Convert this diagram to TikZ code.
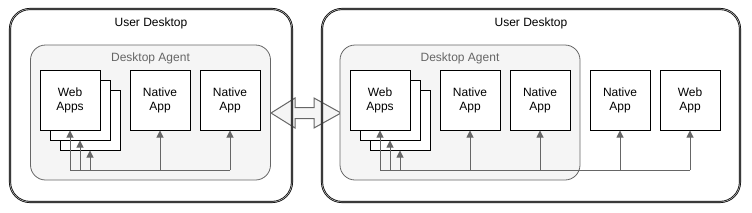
\documentclass[tikz,border=0pt]{standalone}
\usepackage{fontspec}
\setmainfont{Liberation Sans}
\usetikzlibrary{arrows.meta}

\definecolor{agentfill}{HTML}{F5F5F5}
\definecolor{agentline}{HTML}{666666}

\begin{document}
\begin{tikzpicture}[x=1pt, y=-1pt, >={Triangle[length=7pt, width=7pt]},
		font=\fontsize{12}{14}\selectfont,
		desk/.style={rectangle, draw=black, double=black!35, double distance=0.7pt, line width=0.7pt, rounded corners=20pt},
		agent/.style={rectangle, draw=agentline, fill=agentfill, line width=0.8pt, rounded corners=15pt, minimum width=240pt, minimum height=135pt},
		app/.style={rectangle, draw=black, fill=white, line width=1pt, minimum width=60pt, minimum height=60pt, inner sep=0pt, align=center},
		flow/.style={draw=agentline, line width=1pt},
		link/.style={draw=agentline, fill=agentfill, line width=1pt, line join=miter}]
		
		\useasboundingbox (0,0) rectangle (752,212);
		
		% Ligação entre os dois desktops
		\draw[link] (271,113) -- (295,98) -- (295,107.5) -- (314,107.5) -- (314,98) -- (341,113)
			-- (314,128) -- (314,118.5) -- (295,118.5) -- (295,128) -- cycle;
		
		% Desktops
		\node[desk, minimum width=282pt, minimum height=193pt] (deskL) at (151,105.5) {};
		\node[desk, minimum width=418pt, minimum height=193pt] (deskR) at (531,105.5) {};
		\node (deskL_t) at (151,23) {User Desktop};
		\node (deskR_t) at (531,23) {User Desktop};
		
		% Desktop Agents
		\node[agent] (agentL) at (150.5,112.5) {};
		\node[agent] (agentR) at (460,112.5) {};
		\node[text=agentline] (agentL_t) at (150.5,58) {Desktop Agent};
		\node[text=agentline] (agentR_t) at (460,58) {Desktop Agent};
		
		% Apps do desktop da esquerda
		\node[app] (webL3) at (90,120) {};
		\node[app] (webL2) at (80,110) {};
		\node[app] (webL1) at (70,100) {Web\\Apps};
		\node[app] (natL1) at (160,100) {Native\\App};
		\node[app] (natL2) at (230,100) {Native\\App};
		
		% Apps do desktop da direita
		\node[app] (webR3) at (400,120) {};
		\node[app] (webR2) at (390,110) {};
		\node[app] (webR1) at (380,100) {Web\\Apps};
		\node[app] (natR1) at (470,100) {Native\\App};
		\node[app] (natR2) at (540,100) {Native\\App};
		\node[app] (natR3) at (620,100) {Native\\App};
		\node[app] (webR) at (690,100) {Web\\App};
		
		% Barramentos
		\coordinate (bus) at (0,170);
		\draw[flow] (webL1.south |- bus) -- (natL2.south |- bus);
		\draw[flow] (webR1.south |- bus) -- (webR.south |- bus);
		\foreach \app in {webL1, webL2, webL3, natL1, natL2, webR1, webR2, webR3, natR1, natR2, natR3, webR}
			\draw[flow, ->] (\app.south |- bus) -- (\app.south);
	\end{tikzpicture}
\end{document}
